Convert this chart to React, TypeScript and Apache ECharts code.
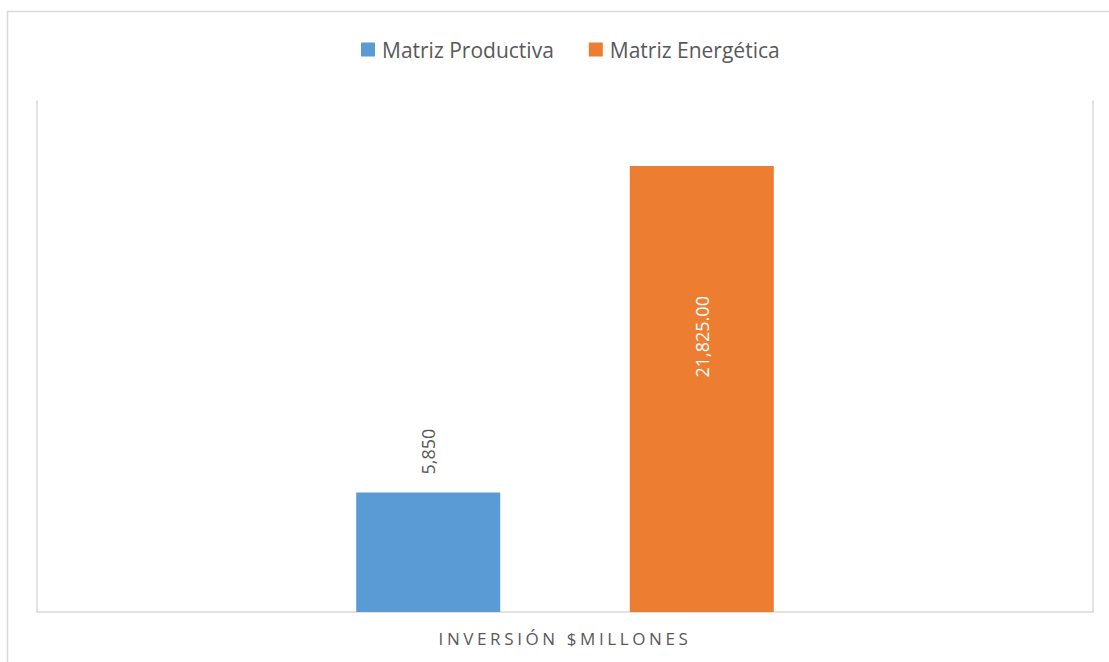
import React, { useEffect, useRef } from "react";
import * as echarts from "echarts";

const categories = ["INVERSIÓN $MILLONES"];
const seriesNames = ["Matriz Productiva", "Matriz Energética"];
const productiva = [5850];
const energetica = [21825];
const colors = ["#5B9BD5", "#ED7D31"];

const FONT = "'Open Sans', 'Liberation Sans', sans-serif";
const GRAY = "#595959";
const LINE = "#D9D9D9";

function fmt(v: number, dec: number) {
  return v.toLocaleString("en-US", { minimumFractionDigits: dec, maximumFractionDigits: dec });
}

export default function App() {
  const ref = useRef<HTMLDivElement>(null);
  useEffect(() => {
    if (!ref.current) return;
    const chart = echarts.init(ref.current, null, { renderer: "svg" });
    chart.setOption({
      animation: false,
      backgroundColor: "#ffffff",
      color: colors,
      graphic: [
        {
          type: "rect",
          shape: { x: 7.5, y: 11.5, width: 1200, height: 700 },
          style: { fill: "none", stroke: LINE, lineWidth: 1.5 },
          silent: true,
          z: -10,
        },
      ],
      legend: {
        left: 356,
        top: 34,
        itemWidth: 14,
        itemHeight: 14,
        itemGap: 35,
        icon: "rect",
        textStyle: { fontFamily: FONT, fontSize: 21, color: GRAY, padding: [0, 0, 0, 2] },
        data: seriesNames,
      },
      grid: { left: 37, right: 16, top: 101, bottom: 50, containLabel: false },
      xAxis: {
        type: "category",
        data: categories,
        axisLine: { show: true, lineStyle: { color: LINE, width: 1.5 } },
        axisTick: { show: false },
        axisLabel: { fontFamily: FONT, fontSize: 17, color: GRAY, margin: 18 },
      },
      yAxis: [
        {
          type: "value",
          min: 0,
          max: 25000,
          axisLine: { show: true, lineStyle: { color: LINE, width: 1.5 } },
          axisTick: { show: false },
          axisLabel: { show: false },
          splitLine: { show: false },
        },
        {
          type: "value",
          position: "right",
          min: 0,
          max: 25000,
          axisLine: { show: true, lineStyle: { color: LINE, width: 1.5 } },
          axisTick: { show: false },
          axisLabel: { show: false },
          splitLine: { show: false },
        },
      ],
      series: [
        {
          name: seriesNames[0],
          type: "bar",
          data: productiva,
          barWidth: 144,
          barGap: "90%",
          label: {
            show: true,
            position: "top",
            distance: 18,
            rotate: 90,
            align: "left",
            verticalAlign: "middle",
            fontFamily: FONT,
            fontSize: 18,
            color: GRAY,
            formatter: (p: any) => fmt(p.value, 0),
          },
        },
        {
          name: seriesNames[1],
          type: "bar",
          data: energetica,
          barWidth: 144,
          barGap: "90%",
          label: {
            show: true,
            position: ["50%", "38.3%"],
            rotate: 90,
            align: "center",
            verticalAlign: "middle",
            fontFamily: FONT,
            fontSize: 18,
            color: "#ffffff",
            formatter: (p: any) => fmt(p.value, 2),
          },
        },
      ],
    });
    const spaceAxis = () => {
      const texts = ref.current?.querySelectorAll("text") || [];
      texts.forEach((t) => {
        if (t.textContent === categories[0]) {
          (t as SVGTextElement).style.letterSpacing = "3.6px";
        }
      });
    };
    spaceAxis();
    chart.on("finished", spaceAxis);
    return () => chart.dispose();
  }, []);
  return (
    <div
      ref={ref}
      style={{ position: "absolute", left: 0, top: 0, width: 1109, height: 662 }}
    />
  );
}
